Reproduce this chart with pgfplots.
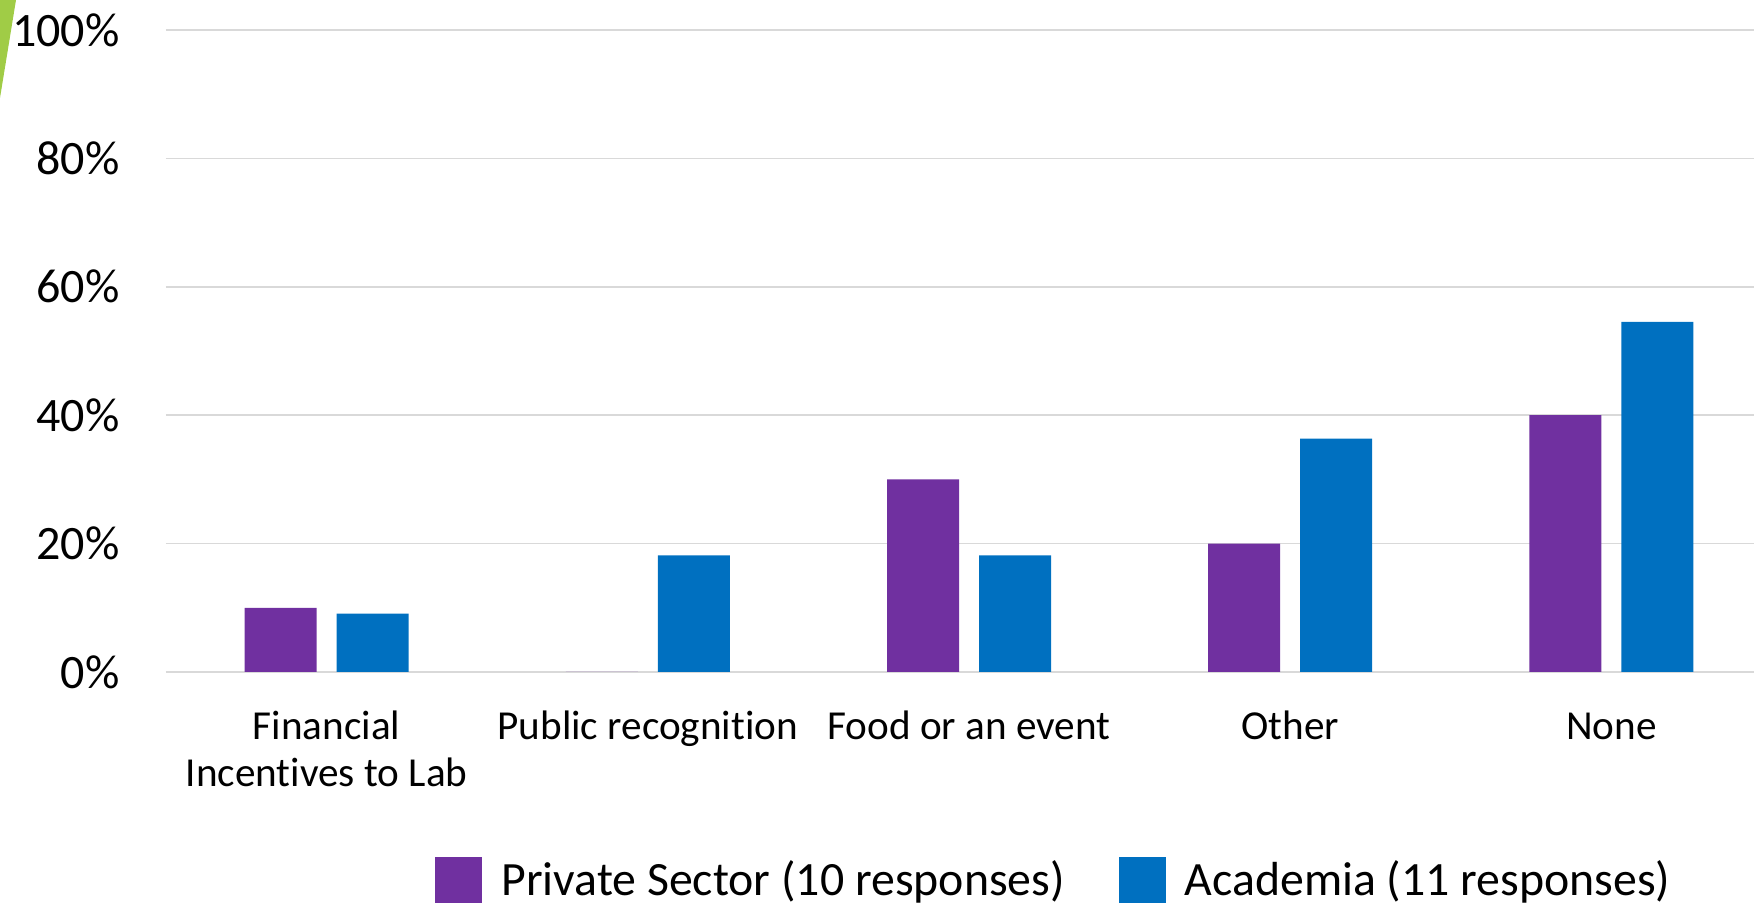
\documentclass[border=0pt]{standalone}
\usepackage{pgfplots}
\pgfplotsset{compat=1.18}
\usepackage{fontspec}
\setmainfont{Carlito}[Ligatures=NoCommon]
\definecolor{cpurple}{RGB}{112,48,160}
\definecolor{cblue}{RGB}{0,112,192}
\definecolor{cgrid}{RGB}{217,217,217}
\definecolor{cgreen}{RGB}{160,204,70}
\begin{document}
\begin{tikzpicture}
\useasboundingbox (-83pt,-115.5pt) rectangle (794pt,336pt);
\begin{axis}[
  scale only axis,
  width=803pt, height=321pt,
  ybar=10pt, bar width=36pt,
  xmin=-0.5, xmax=4.5, ymin=0, ymax=100,
  xtick={0,1,2,3,4},
  xticklabels={{\strut Financial\\Incentives to Lab},{\strut Public recognition},{\strut Food or an event},{\strut Other},{\strut None}},
  ytick={0,20,40,60,80,100},
  yticklabels={0\%,20\%,40\%,60\%,80\%,100\%},
  major tick length=0pt,
  axis line style={draw=none},
  ymajorgrids, grid style={cgrid, line width=0.75pt},
  xticklabel style={font=\fontsize{20.6}{23.5}\selectfont, align=center, anchor=north, inner sep=0pt, yshift=-17.3pt},
  yticklabel style={font=\fontsize{24}{28}\selectfont, anchor=east, inner sep=0pt, xshift=-23pt},
  legend style={at={(0.1675,-0.324)}, anchor=west, draw=none, fill=none, inner sep=0pt,
    font=\fontsize{23.9}{28}\selectfont, legend columns=2,
    nodes={inner sep=0pt, anchor=west},
    /tikz/every even column/.append style={column sep=27pt}},
  legend image code/.code={\fill[#1] (0pt,-11.75pt) rectangle (23.5pt,11.75pt); \path (33pt,0pt);},
  clip=false,
]
\addplot[fill=cpurple, draw=none] coordinates {(0,10) (1,0) (2,30) (3,20) (4,40)};
\addlegendentry{Private Sector (10 responses)}
\addplot[fill=cblue, draw=none] coordinates {(0,9.09) (1,18.18) (2,18.18) (3,36.36) (4,54.55)};
\addlegendentry{Academia (11 responses)}
\end{axis}
\fill[cgreen] (-83pt,336pt) -- (-75pt,336pt) -- (-83pt,287pt) -- cycle;
\end{tikzpicture}
\end{document}
